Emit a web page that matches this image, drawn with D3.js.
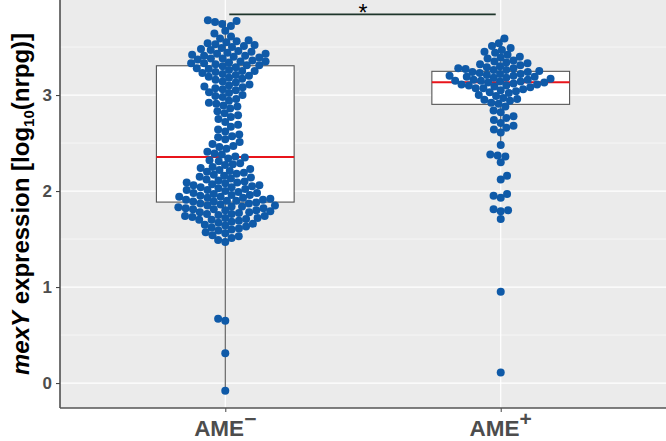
<!DOCTYPE html>
<html>
<head>
<meta charset="utf-8">
<script src="https://cdn.jsdelivr.net/npm/d3@7"></script>
<style>
  body { margin: 0; background: #fff; }
  svg { display: block; font-family: "Liberation Sans", Arial, sans-serif; }
</style>
</head>
<body>
<script>
// groups on the x axis
let groups = ['AME', 'AME']
let groupSup = ['\u2212', '+']

// mexY expression, log10(nrpg), one value per isolate
let ameMinus = [
  3.78, 3.77, 3.76, 3.74, 3.72,
  3.67, 3.64, 3.61,
  3.59, 3.57, 3.56, 3.55, 3.54, 3.53, 3.52, 3.51, 3.50,
  3.49, 3.48, 3.47, 3.46, 3.45, 3.44, 3.43, 3.43, 3.42, 3.41, 3.41, 3.40,
  3.39, 3.38, 3.38, 3.37, 3.36, 3.35, 3.35, 3.34, 3.33, 3.33, 3.32, 3.31, 3.31, 3.30,
  3.29, 3.28, 3.27, 3.26, 3.25, 3.25, 3.24, 3.23, 3.22, 3.21, 3.20,
  3.19, 3.18, 3.17, 3.16, 3.14, 3.13, 3.11, 3.10,
  3.09, 3.08, 3.07, 3.06, 3.05, 3.03, 3.02, 3.00,
  2.99, 2.98, 2.96, 2.94, 2.92, 2.91,
  2.89, 2.88, 2.86, 2.83, 2.81,
  2.79, 2.77, 2.75, 2.72,
  2.69, 2.67, 2.64, 2.62,
  2.59, 2.57, 2.56, 2.54, 2.51,
  2.49, 2.47, 2.46, 2.44, 2.41,
  2.39, 2.38, 2.36, 2.35, 2.34, 2.32, 2.31,
  2.29, 2.28, 2.27, 2.25, 2.24, 2.23, 2.22, 2.21, 2.20,
  2.19, 2.18, 2.17, 2.16, 2.15, 2.14, 2.13, 2.12, 2.11, 2.10,
  2.09, 2.09, 2.08, 2.07, 2.06, 2.06, 2.05, 2.04, 2.04, 2.03, 2.02, 2.01, 2.01, 2.00,
  1.99, 1.98, 1.98, 1.97, 1.96, 1.96, 1.95, 1.94, 1.94, 1.93, 1.93, 1.92, 1.91, 1.91, 1.90, 1.90,
  1.89, 1.89, 1.88, 1.87, 1.87, 1.86, 1.85, 1.85, 1.84, 1.84, 1.83, 1.82, 1.82, 1.81, 1.81, 1.80, 1.80,
  1.79, 1.78, 1.78, 1.77, 1.76, 1.76, 1.75, 1.74, 1.74, 1.73, 1.72, 1.72, 1.71, 1.70, 1.70,
  1.69, 1.68, 1.67, 1.66, 1.65, 1.64, 1.63, 1.62, 1.61, 1.60,
  1.59, 1.57, 1.56, 1.54, 1.53, 1.51,
  1.49, 1.47,
  0.67, 0.65, 0.31, -0.08
]

let amePlus = [
  3.59,
  3.54, 3.51,
  3.49, 3.47, 3.45,
  3.44, 3.42, 3.40,
  3.39, 3.38, 3.36, 3.35,
  3.34, 3.33, 3.32, 3.31, 3.30,
  3.29, 3.28, 3.28, 3.27, 3.26, 3.26, 3.25,
  3.24, 3.24, 3.23, 3.22, 3.22, 3.21, 3.20, 3.20,
  3.19, 3.19, 3.18, 3.18, 3.17, 3.16, 3.16, 3.15, 3.15,
  3.14, 3.14, 3.13, 3.13, 3.12, 3.11, 3.11, 3.10, 3.10,
  3.09, 3.08, 3.07, 3.07, 3.06, 3.05,
  3.04, 3.03, 3.02, 3.00,
  2.99, 2.97, 2.96, 2.95,
  2.94, 2.92, 2.91,
  2.88,
  2.84, 2.82,
  2.78, 2.76,
  2.74, 2.71,
  2.68, 2.66,
  2.64, 2.61,
  2.48, 2.38, 2.37, 2.36, 2.30, 2.16, 2.12,
  1.97, 1.95, 1.93, 1.81, 1.80, 1.79, 1.71,
  0.95, 0.11
]

// box statistics as drawn (hinges and median)
let boxQ1 = [1.885, 2.903]
let boxMedian = [2.354, 3.132]
let boxQ3 = [3.305, 3.247]

let yTicks = [0, 1, 2, 3]
let yMinor = [0.5, 1.5, 2.5, 3.5]
let sigLabel = '*'

let width = 666, height = 441
let margin = { top: 0, right: 0, bottom: 33, left: 60 }
let panelBottom = height - margin.bottom

let svg = d3.select('body').append('svg')
  .attr('width', width)
  .attr('height', height)

let x = d3.scalePoint()
  .domain([0, 1])
  .range([margin.left, width - margin.right])
  .padding(0.6)

let y = d3.scaleLinear()
  .domain([-0.26, 3.99])
  .range([panelBottom, margin.top])

let boxW = x.step() * 0.5

// panel
svg.append('rect')
  .attr('x', margin.left).attr('y', margin.top)
  .attr('width', width - margin.left - margin.right)
  .attr('height', panelBottom - margin.top)
  .attr('fill', '#EBEBEB')

let grid = svg.append('g')
grid.selectAll('.minor').data(yMinor).enter().append('line')
  .attr('x1', margin.left).attr('x2', width - margin.right)
  .attr('y1', d => y(d)).attr('y2', d => y(d))
  .attr('stroke', '#fff').attr('stroke-width', 0.6)
grid.selectAll('.major').data(yTicks).enter().append('line')
  .attr('x1', margin.left).attr('x2', width - margin.right)
  .attr('y1', d => y(d)).attr('y2', d => y(d))
  .attr('stroke', '#fff').attr('stroke-width', 1.2)
grid.selectAll('.vert').data([0, 1]).enter().append('line')
  .attr('x1', d => x(d)).attr('x2', d => x(d))
  .attr('y1', margin.top).attr('y2', panelBottom)
  .attr('stroke', '#fff').attr('stroke-width', 1.2)

// boxplots, whiskers by the 1.5 IQR rule
let series = [ameMinus, amePlus]
let boxes = series.map((vals, i) => {
  let iqr = boxQ3[i] - boxQ1[i]
  let lo = d3.min(vals.filter(v => v >= boxQ1[i] - 1.5 * iqr))
  let hi = d3.max(vals.filter(v => v <= boxQ3[i] + 1.5 * iqr))
  return { i, q1: boxQ1[i], med: boxMedian[i], q3: boxQ3[i], lo, hi }
})

let bx = svg.append('g').selectAll('g').data(boxes).enter().append('g')
bx.append('line')
  .attr('x1', d => x(d.i)).attr('x2', d => x(d.i))
  .attr('y1', d => y(d.hi)).attr('y2', d => y(d.lo))
  .attr('stroke', '#555').attr('stroke-width', 1.1)
bx.append('rect')
  .attr('x', d => x(d.i) - boxW / 2)
  .attr('y', d => y(d.q3))
  .attr('width', boxW)
  .attr('height', d => y(d.q1) - y(d.q3))
  .attr('fill', '#fff').attr('stroke', '#555').attr('stroke-width', 1.1)
bx.append('line')
  .attr('x1', d => x(d.i) - boxW / 2).attr('x2', d => x(d.i) + boxW / 2)
  .attr('y1', d => y(d.med)).attr('y2', d => y(d.med))
  .attr('stroke', '#E8141B').attr('stroke-width', 2)

// beeswarm: each point as close to the centre line as it can go
let dist = 7.4
let swarm = (vals, cx) => {
  let pts = vals.map(v => ({ v, py: y(v) })).sort((a, b) => b.py - a.py)
  let placed = []
  pts.forEach((p, k) => {
    let near = placed.filter(q => Math.abs(q.py - p.py) < dist)
    let cands = [0]
    near.forEach(q => {
      let dx = Math.sqrt(dist * dist - (q.py - p.py) ** 2)
      cands.push(q.dx + dx, q.dx - dx)
    })
    let side = k % 2 ? 1 : -1
    cands.sort((a, b) => Math.abs(a) - Math.abs(b) || side * (a - b))
    let best = cands.find(c => near.every(q => (q.dx - c) ** 2 + (q.py - p.py) ** 2 >= dist * dist - 0.01))
    p.dx = best
    placed.push(p)
  })
  return pts.map(p => ({ cx: cx + p.dx, cy: p.py }))
}

let dots = series.map((vals, i) => swarm(vals, x(i))).flat()
svg.append('g').selectAll('circle').data(dots).enter().append('circle')
  .attr('cx', d => d.cx).attr('cy', d => d.cy)
  .attr('r', 4)
  .attr('fill', '#0F5AA8')

// significance bracket
let sigY = 3.84
svg.append('line')
  .attr('x1', x(0) + 4).attr('x2', x(1) - 5)
  .attr('y1', y(sigY)).attr('y2', y(sigY))
  .attr('stroke', '#1E352B').attr('stroke-width', 1.6)
svg.append('text')
  .attr('x', (x(0) + x(1)) / 2).attr('y', 21)
  .attr('text-anchor', 'middle')
  .attr('font-size', 23).attr('fill', '#000')
  .text(sigLabel)

// axes
let yAxis = svg.append('g')
  .attr('transform', `translate(${margin.left},0)`)
  .call(d3.axisLeft(y).tickValues(yTicks).tickSize(4).tickPadding(4).tickFormat(d3.format('d')))
yAxis.select('.domain').attr('stroke', '#444').attr('stroke-width', 1.5)
  .attr('d', `M0,${margin.top}V${panelBottom}`)
yAxis.selectAll('.tick line').attr('stroke', '#444').attr('stroke-width', 1.1)
yAxis.selectAll('.tick text')
  .attr('font-size', 17).attr('font-weight', 'bold').attr('fill', '#4D4D4D')
  .attr('font-family', '"Liberation Sans", Arial, sans-serif')

let xAxis = svg.append('g')
  .attr('transform', `translate(0,${panelBottom})`)
  .call(d3.axisBottom(x).tickSize(4).tickFormat(() => ''))
xAxis.select('.domain').attr('stroke', '#555').attr('stroke-width', 1.5)
  .attr('d', `M${margin.left},0H${width - margin.right}`)
xAxis.selectAll('.tick line').attr('stroke', '#555').attr('stroke-width', 1.1)

let xl = svg.append('g').selectAll('text').data([0, 1]).enter().append('text')
  .attr('x', d => x(d)).attr('y', height - 5)
  .attr('text-anchor', 'middle')
  .attr('font-size', 22.5).attr('font-weight', 'bold').attr('fill', '#4D4D4D')
xl.append('tspan').text(d => groups[d])
xl.append('tspan').attr('dy', -10).attr('font-size', 21).text(d => groupSup[d])

// y title
let yt = svg.append('text')
  .attr('transform', `translate(29,${(margin.top + panelBottom) / 2}) rotate(-90)`)
  .attr('text-anchor', 'middle')
  .attr('font-size', 24).attr('font-weight', 'bold').attr('fill', '#000')
yt.append('tspan').attr('font-style', 'italic').text('mexY')
yt.append('tspan').text(' expression [log')
yt.append('tspan').attr('font-size', 15).attr('dy', 5).text('10')
yt.append('tspan').attr('dy', -5).text('(nrpg)]')
</script>
</body>
</html>
